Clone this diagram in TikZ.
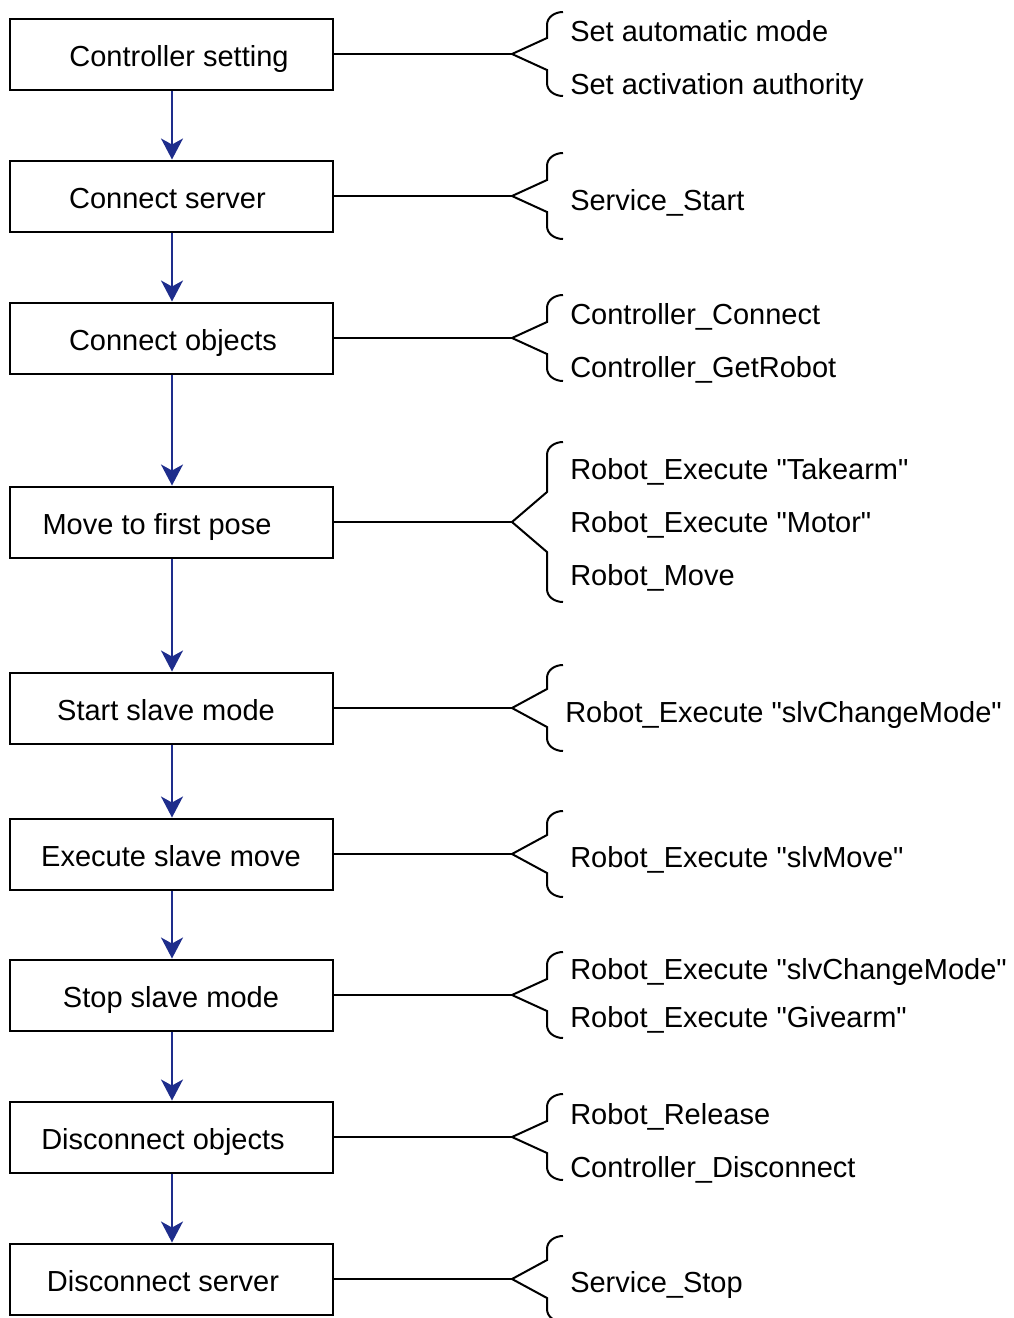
\documentclass[tikz,border=0pt]{standalone}
\usepackage{fontspec}
\setmainfont{Liberation Sans}[Ligatures=TeXOff]
\usetikzlibrary{arrows.meta}
\definecolor{flowblue}{RGB}{30,45,140}
\newcommand\mybrace[3]{%
  \draw[brace] (563,{#1-#2}) to[out=180,in=90] (547,{#1-#2+13}) -- (547,{#1-#3})
    -- (512,#1) -- (547,{#1+#3}) -- (547,{#1+#2-13}) to[out=-90,in=180] (563,{#1+#2});}
\begin{document}
\begin{tikzpicture}[x=0.75pt,y=-0.75pt,
  box/.style={draw=black,line width=1.5pt,minimum width=242.25pt,minimum height=53.25pt,inner sep=0pt},
  txt/.style={inner sep=0pt,font=\fontsize{21.75}{26}\selectfont},
  btxt/.style={txt,anchor=base},
  item/.style={txt,anchor=base west},
  flow/.style={draw=flowblue,line width=1.4pt,-{Stealth[length=15.75pt,width=16.5pt,inset=4.5pt]}},
  link/.style={draw=black,line width=1.5pt},
  brace/.style={draw=black,line width=1.5pt,line join=miter}]
\useasboundingbox (0,0) rectangle (1014,1318);

% boxes
\node[box] (b1) at (171.5,54) {};
\node[box] (b2) at (171.5,196) {};
\node[box] (b3) at (171.5,338) {};
\node[box] (b4) at (171.5,522) {};
\node[box] (b5) at (171.5,708) {};
\node[box] (b6) at (171.5,854) {};
\node[box] (b7) at (171.5,995) {};
\node[box] (b8) at (171.5,1137) {};
\node[box] (b9) at (171.5,1279) {};

% box texts
\node[btxt] (l1) at (179,66.5) {Controller setting};
\node[btxt] (l2) at (167.5,208.5) {Connect server};
\node[btxt] (l3) at (173,350.5) {Connect objects};
\node[btxt] (l4) at (157,534.5) {Move to first pose};
\node[btxt] (l5) at (166,720.5) {Start slave mode};
\node[btxt] (l6) at (171,866.5) {Execute slave move};
\node[btxt] (l7) at (171,1007.5) {Stop slave mode};
\node[btxt] (l8) at (163,1149.5) {Disconnect objects};
\node[btxt] (l9) at (163,1291.5) {Disconnect server};

% flow arrows
\foreach \a/\b in {b1/b2,b2/b3,b3/b4,b4/b5,b5/b6,b6/b7,b7/b8,b8/b9}
  \draw[flow] ([xshift=0.375pt]\a.south) -- ([xshift=0.375pt]\b.north);

% brace tips and links
\coordinate (t1) at (512,54);
\coordinate (t2) at (512,196);
\coordinate (t3) at (512,338);
\coordinate (t4) at (512,522);
\coordinate (t5) at (512,708);
\coordinate (t6) at (512,854);
\coordinate (t7) at (512,995);
\coordinate (t8) at (512,1137);
\coordinate (t9) at (512,1279);
\foreach \i in {1,...,9}
  \draw[link] (b\i.east) -- (t\i);

% braces
\mybrace{54}{42}{16}
\mybrace{196}{43}{16}
\mybrace{338}{43}{16}
\mybrace{522}{80}{30}
\mybrace{708}{43}{19}
\mybrace{854}{43}{19}
\mybrace{995}{43}{16}
\mybrace{1137}{43}{16}
\mybrace{1279}{43}{19}

% items
\node[item] (i1a) at (570,41) {Set automatic mode};
\node[item] (i1b) at (570,94) {Set activation authority};
\node[item] (i2a) at (570,210) {Service\_Start};
\node[item] (i3a) at (570,324) {Controller\_Connect};
\node[item] (i3b) at (570,377) {Controller\_GetRobot};
\node[item] (i4a) at (570,479) {Robot\_Execute "Takearm"};
\node[item] (i4b) at (570,532) {Robot\_Execute "Motor"};
\node[item] (i4c) at (570,585) {Robot\_Move};
\node[item] (i5a) at (565,722) {Robot\_Execute "slvChangeMode"};
\node[item] (i6a) at (570,867) {Robot\_Execute "slvMove"};
\node[item] (i7a) at (570,979) {Robot\_Execute "slvChangeMode"};
\node[item] (i7b) at (570,1027) {Robot\_Execute "Givearm"};
\node[item] (i8a) at (570,1124) {Robot\_Release};
\node[item] (i8b) at (570,1177) {Controller\_Disconnect};
\node[item] (i9a) at (570,1292) {Service\_Stop};
\end{tikzpicture}
\end{document}
